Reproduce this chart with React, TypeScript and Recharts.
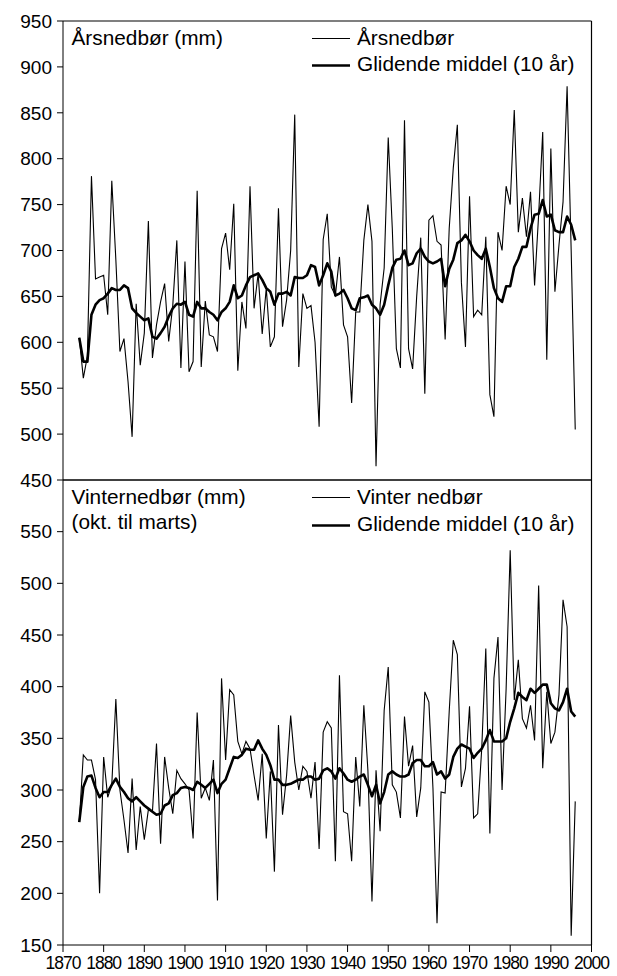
import React from "react";
import { LineChart, Line, XAxis, YAxis, ReferenceLine } from "recharts";

// first year of both series, one value per year after that
const FIRST_YEAR = 1874;

// Årsnedbør (mm)
const annual = [
  605, 561, 585, 781, 669, 671, 673, 630, 776, 690, 590, 604, 557, 497, 642, 575, 610, 732, 583, 619,
  644, 664, 601, 640, 711, 572, 688, 568, 579, 765, 573, 645, 608, 606, 590, 702, 719, 679, 751, 569,
  644, 615, 770, 637, 675, 609, 659, 595, 606, 746, 617, 646, 700, 848, 573, 653, 637, 640, 600, 508,
  712, 740, 660, 651, 693, 619, 606, 534, 633, 633, 711, 750, 710, 465, 641, 681, 823, 724, 593, 572,
  842, 593, 571, 650, 714, 544, 733, 738, 710, 706, 603, 724, 790, 837, 665, 595, 759, 628, 635, 630,
  715, 543, 519, 720, 700, 770, 750, 853, 720, 757, 715, 764, 662, 739, 829, 581, 811, 655, 706, 753,
  879, 700, 505,
];

// Glidende middel (10 år), årsnedbør
const annualAvg = [
  605, 579, 579, 630, 641, 646, 648, 653, 659, 657, 657, 662, 659, 637, 632, 628, 624, 626, 606, 604,
  610, 617, 628, 637, 642, 641, 644, 630, 628, 644, 637, 637, 633, 630, 624, 633, 637, 644, 662, 648,
  651, 662, 671, 673, 675, 668, 659, 655, 641, 653, 653, 655, 651, 671, 670, 670, 673, 684, 682, 662,
  673, 686, 677, 651, 653, 657, 648, 637, 635, 648, 649, 651, 641, 637, 630, 641, 662, 681, 690, 691,
  700, 684, 686, 697, 702, 693, 688, 686, 688, 691, 661, 680, 690, 708, 711, 717, 710, 700, 695, 691,
  702, 682, 659, 648, 644, 661, 661, 682, 691, 704, 704, 724, 739, 740, 755, 737, 739, 722, 720, 720,
  737, 728, 711,
];

// Vinternedbør (mm), okt. til marts
const winter = [
  269, 334, 329, 329, 310, 200, 332, 293, 305, 388, 300, 271, 239, 311, 242, 284, 252, 281, 279, 345,
  248, 332, 302, 277, 319, 311, 306, 300, 253, 375, 292, 302, 290, 329, 193, 408, 329, 397, 392, 347,
  335, 347, 340, 314, 290, 335, 253, 318, 221, 363, 276, 314, 372, 327, 300, 323, 318, 292, 327, 243,
  356, 366, 360, 231, 411, 279, 277, 231, 332, 284, 382, 319, 192, 319, 260, 377, 419, 305, 298, 273,
  371, 323, 343, 274, 302, 395, 385, 302, 171, 298, 297, 376, 445, 431, 303, 321, 381, 273, 277, 340,
  437, 258, 408, 448, 300, 398, 532, 387, 426, 369, 360, 382, 348, 498, 321, 395, 345, 356, 392, 484,
  458, 159, 289,
];

// Glidende middel (10 år), vinternedbør
const winterAvg = [
  269, 303, 313, 314, 302, 293, 298, 298, 305, 311, 303, 298, 292, 289, 293, 289, 285, 282, 279, 276,
  277, 285, 287, 295, 297, 302, 303, 302, 300, 308, 305, 302, 306, 310, 297, 306, 310, 321, 332, 331,
  334, 340, 339, 339, 348, 340, 334, 324, 310, 310, 305, 305, 306, 308, 310, 310, 313, 313, 310, 311,
  319, 321, 318, 311, 321, 316, 310, 308, 310, 313, 315, 305, 294, 305, 287, 298, 315, 318, 315, 313,
  313, 315, 326, 329, 329, 323, 323, 327, 315, 318, 311, 315, 332, 340, 344, 342, 340, 331, 336, 340,
  348, 358, 347, 347, 347, 350, 366, 379, 394, 390, 387, 398, 394, 398, 402, 402, 384, 379, 377, 385,
  398, 376, 371,
];

const xTicks = [1870, 1880, 1890, 1900, 1910, 1920, 1930, 1940, 1950, 1960, 1970, 1980, 1990, 2000];
const annualTicks = [450, 500, 550, 600, 650, 700, 750, 800, 850, 900, 950];
const winterTicks = [150, 200, 250, 300, 350, 400, 450, 500, 550];

const topData = annual.map((v, i) => ({ year: FIRST_YEAR + i, value: v, avg: annualAvg[i] }));
const bottomData = winter.map((v, i) => ({ year: FIRST_YEAR + i, value: v, avg: winterAvg[i] }));

const font = '"Liberation Sans", Arial, Helvetica, sans-serif';
const yTick = { fill: "#000", fontSize: 19, fontFamily: font };

// x labels are squeezed in the original, so a tighter letter spacing
const YearTick = ({ x, y, payload }: any) => (
  <text x={x} y={y} dy="0.71em" textAnchor="middle" fontSize={17.5} letterSpacing={-1} fill="#000" fontFamily={font}>
    {payload.value}
  </text>
);

const PanelLabels = () => (
  <svg width={617} height={976} style={{ position: "absolute", left: 0, top: 0, pointerEvents: "none" }}>
    <g fontFamily={font} fontSize={20.8} fill="#000">
      <text x={71.5} y={44.5}>Årsnedbør (mm)</text>
      <line x1={312} x2={350} y1={38.5} y2={38.5} stroke="#000" strokeWidth={1.2} />
      <text x={357} y={44.5}>Årsnedbør</text>
      <line x1={312} x2={350} y1={65.5} y2={65.5} stroke="#000" strokeWidth={2.6} />
      <text x={357} y={70.5}>Glidende middel (10 år)</text>

      <text x={71.5} y={504}>Vinternedbør (mm)</text>
      <text x={71.5} y={529}>(okt. til marts)</text>
      <line x1={312} x2={350} y1={497.5} y2={497.5} stroke="#000" strokeWidth={1.2} />
      <text x={357} y={504}>Vinter nedbør</text>
      <line x1={312} x2={350} y1={525.5} y2={525.5} stroke="#000" strokeWidth={2.6} />
      <text x={357} y={531}>Glidende middel (10 år)</text>
    </g>
  </svg>
);

export default function App() {
  return (
    <div style={{ position: "absolute", left: 0, top: 0, width: 617, height: 976, background: "#fff" }}>
      {/* Årsnedbør */}
      <div style={{ position: "absolute", left: 0, top: 0 }}>
        <LineChart width={617} height={490} data={topData} margin={{ top: 21, right: 25.5, bottom: 10, left: 0 }}>
          <XAxis type="number" dataKey="year" domain={[1870, 2000]} ticks={xTicks} hide />
          <YAxis
            width={63}
            domain={[450, 950]}
            ticks={annualTicks}
            interval={0}
            tick={yTick}
            tickSize={6}
            tickMargin={5}
            axisLine={{ stroke: "#000" }}
            tickLine={{ stroke: "#000" }}
          />
          <ReferenceLine y={950} stroke="#000" strokeWidth={1.2} />
          <ReferenceLine y={450} stroke="#000" strokeWidth={1.6} />
          <ReferenceLine x={2000} stroke="#000" strokeWidth={1.2} />
          <Line type="linear" dataKey="value" stroke="#000" strokeWidth={1.1} dot={false} isAnimationActive={false} />
          <Line type="linear" dataKey="avg" stroke="#000" strokeWidth={2.6} strokeLinejoin="round" dot={false} isAnimationActive={false} />
        </LineChart>
      </div>

      {/* Vinternedbør */}
      <div style={{ position: "absolute", left: 0, top: 470 }}>
        <LineChart width={617} height={506} data={bottomData} margin={{ top: 10, right: 25.5, bottom: 0, left: 0 }}>
          <XAxis
            type="number"
            dataKey="year"
            domain={[1870, 2000]}
            ticks={xTicks}
            interval={0}
            height={31}
            tick={<YearTick />}
            tickSize={7}
            tickMargin={5}
            axisLine={{ stroke: "#000" }}
            tickLine={{ stroke: "#000" }}
          />
          <YAxis
            width={63}
            domain={[150, 600]}
            ticks={winterTicks}
            interval={0}
            tick={yTick}
            tickSize={6}
            tickMargin={5}
            axisLine={{ stroke: "#000" }}
            tickLine={{ stroke: "#000" }}
          />
          <ReferenceLine x={2000} stroke="#000" strokeWidth={1.2} />
          <Line type="linear" dataKey="value" stroke="#000" strokeWidth={1.1} dot={false} isAnimationActive={false} />
          <Line type="linear" dataKey="avg" stroke="#000" strokeWidth={2.6} strokeLinejoin="round" dot={false} isAnimationActive={false} />
        </LineChart>
      </div>

      <PanelLabels />
    </div>
  );
}
